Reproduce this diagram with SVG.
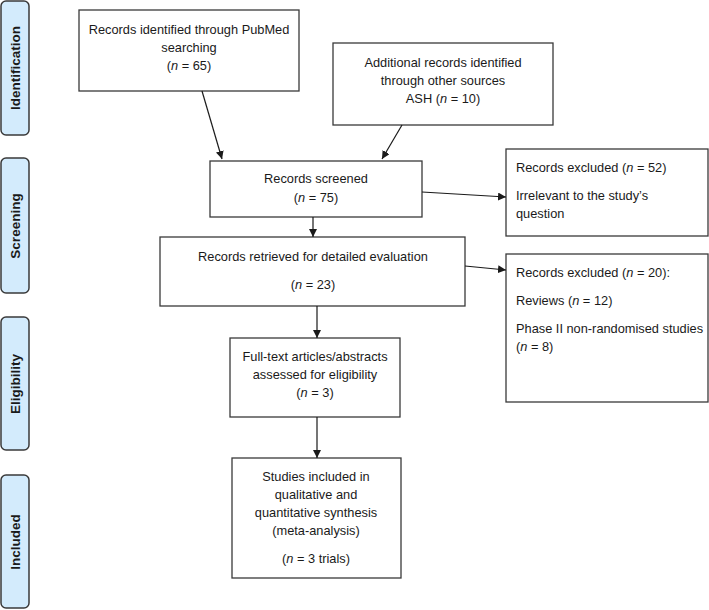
<svg xmlns="http://www.w3.org/2000/svg" width="709" height="610" viewBox="0 0 709 610">
<style>
.box{fill:#fff;stroke:#3a3a3a;stroke-width:1.3}
.side{fill:#d3ebfc;stroke:#3a3a3a;stroke-width:1.5}
.t{font-family:"Liberation Sans",Arial,sans-serif;font-size:12.8px;fill:#1a1a1a}
.c{text-anchor:middle}
.s{font-family:"Liberation Sans",Arial,sans-serif;font-size:13.5px;font-weight:bold;fill:#1a1a1a;text-anchor:middle}
.i{font-style:italic}
.ln{stroke:#1a1a1a;stroke-width:1.2;fill:none;marker-end:url(#ah)}
</style>
<defs>
<marker id="ah" viewBox="0 0 10 10" refX="10" refY="5" markerWidth="8" markerHeight="8" markerUnits="userSpaceOnUse" orient="auto">
<path d="M0,0 L10,5 L0,10 z" fill="#1a1a1a"/>
</marker>
</defs>
<g id="side-identification"><rect class="side" x="1" y="1" width="28" height="134" rx="5"/><text class="s" transform="translate(20,68) rotate(-90)">Identification</text></g>
<g id="side-screening"><rect class="side" x="1" y="158" width="28" height="135" rx="5"/><text class="s" transform="translate(20,226) rotate(-90)">Screening</text></g>
<g id="side-eligibility"><rect class="side" x="1" y="317" width="28" height="133" rx="5"/><text class="s" transform="translate(20,384) rotate(-90)">Eligibility</text></g>
<g id="side-included"><rect class="side" x="1" y="475" width="28" height="133" rx="5"/><text class="s" transform="translate(20,542) rotate(-90)">Included</text></g>

<g id="pubmed"><rect class="box" x="79" y="10" width="220" height="81"/>
<text class="t c" x="189" y="34">Records identified through PubMed</text>
<text class="t c" x="189" y="52">searching</text>
<text class="t c" x="189" y="70">(<tspan class="i">n</tspan> = 65)</text></g>

<g id="additional"><rect class="box" x="333" y="43" width="220" height="82"/>
<text class="t c" x="443" y="67">Additional records identified</text>
<text class="t c" x="443" y="85">through other sources</text>
<text class="t c" x="443" y="103">ASH (<tspan class="i">n</tspan> = 10)</text></g>

<g id="screened"><rect class="box" x="210" y="161" width="212" height="56"/>
<text class="t c" x="316" y="183">Records screened</text>
<text class="t c" x="316" y="202">(<tspan class="i">n</tspan> = 75)</text></g>

<g id="excluded1"><rect class="box" x="506" y="149" width="202" height="87"/>
<text class="t" x="516" y="172">Records excluded (<tspan class="i">n</tspan> = 52)</text>
<text class="t" x="516" y="200">Irrelevant to the study’s</text>
<text class="t" x="516" y="218">question</text></g>

<g id="retrieved"><rect class="box" x="160" y="237" width="305" height="69"/>
<text class="t c" x="313" y="261">Records retrieved for detailed evaluation</text>
<text class="t c" x="313" y="289">(<tspan class="i">n</tspan> = 23)</text></g>

<g id="excluded2"><rect class="box" x="506" y="254" width="202" height="148"/>
<text class="t" x="516" y="277">Records excluded (<tspan class="i">n</tspan> = 20):</text>
<text class="t" x="516" y="305">Reviews (<tspan class="i">n</tspan> = 12)</text>
<text class="t" x="516" y="333">Phase II non-randomised studies</text>
<text class="t" x="516" y="351">(<tspan class="i">n</tspan> = 8)</text></g>

<g id="fulltext"><rect class="box" x="230" y="338" width="170" height="79"/>
<text class="t c" x="315" y="361">Full-text articles/abstracts</text>
<text class="t c" x="315" y="379">assessed for eligibility</text>
<text class="t c" x="315" y="397">(<tspan class="i">n</tspan> = 3)</text></g>

<g id="included"><rect class="box" x="232" y="458" width="169" height="120"/>
<text class="t c" x="316" y="481">Studies included in</text>
<text class="t c" x="316" y="499">qualitative and</text>
<text class="t c" x="316" y="517">quantitative synthesis</text>
<text class="t c" x="316" y="535">(meta-analysis)</text>
<text class="t c" x="316" y="563">(<tspan class="i">n</tspan> = 3 trials)</text></g>

<g id="connectors">
<line class="ln" x1="202" y1="91" x2="222" y2="159"/>
<line class="ln" x1="402" y1="125" x2="382" y2="159"/>
<line class="ln" x1="422" y1="192" x2="506" y2="197"/>
<line class="ln" x1="313" y1="217" x2="313" y2="237"/>
<line class="ln" x1="465" y1="266" x2="506" y2="270"/>
<line class="ln" x1="317" y1="306" x2="317" y2="338"/>
<line class="ln" x1="317" y1="417" x2="317" y2="458"/>
</g>
</svg>
